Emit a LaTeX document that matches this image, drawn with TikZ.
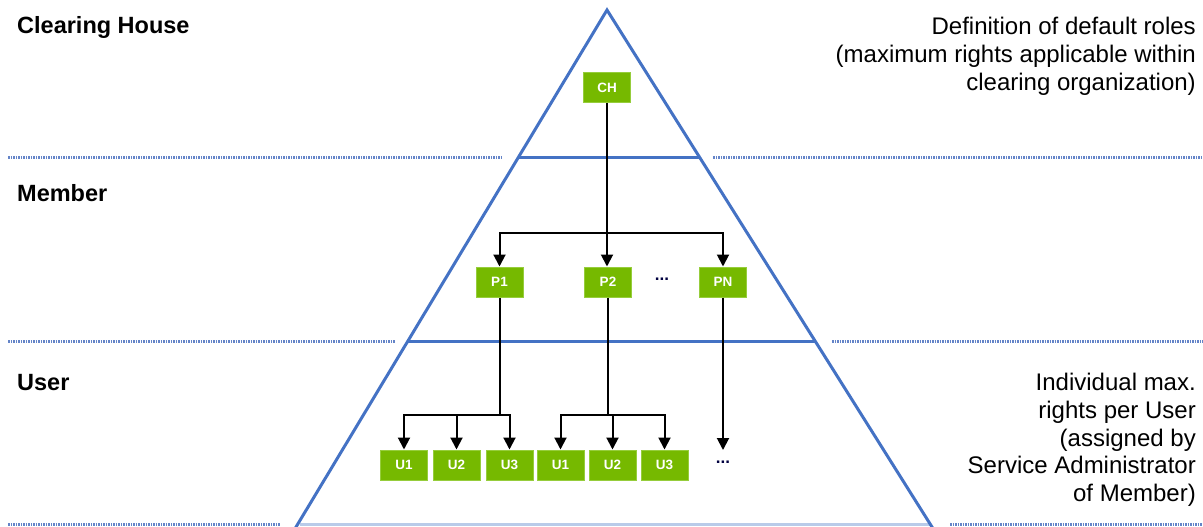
\documentclass[tikz,border=0pt]{standalone}
\usepackage{fontspec}
\setmainfont{Liberation Sans}
\usetikzlibrary{arrows.meta}
\definecolor{tri}{RGB}{68,114,196}
\definecolor{dotc}{RGB}{100,132,200}
\definecolor{lightc}{RGB}{185,203,233}
\definecolor{boxg}{RGB}{118,185,0}
\definecolor{boxb}{RGB}{150,205,60}
\begin{document}
\begin{tikzpicture}[x=1pt,y=-1pt,
  rolebox/.style={draw=boxb, line width=1pt, fill=boxg, minimum width=47pt, minimum height=30pt, inner sep=0pt, text=white, font=\fontsize{13.5}{13.5}\selectfont\bfseries},
  conn/.style={line width=2pt, black},
  arr/.style={conn, -{Triangle[width=12pt,length=12pt]}},
  sep/.style={dotc, line width=3pt, dash pattern=on 1.5pt off 1pt},
  lvl/.style={tri, line width=3pt},
  lbl/.style={anchor=base west, font=\fontsize{23.5}{27}\selectfont\bfseries, inner sep=0pt},
  note/.style={anchor=north east, align=right, font=\fontsize{24}{27.8}\selectfont, inner sep=0pt},
  ell/.style={font=\fontsize{17}{17}\selectfont\bfseries, text=black!75!blue},
]
\useasboundingbox (0,0) rectangle (1203,527);
\clip (0,0) rectangle (1203,527);
% separators
\draw[sep] (8,157) -- (503,157);
\draw[sep] (713,157) -- (1203,157);
\draw[sep] (8,341) -- (395,341);
\draw[sep] (832,341) -- (1203,341);
\draw[sep] (8,524) -- (280,524);
\draw[sep] (950,524) -- (1203,524);
\draw[lightc, line width=3pt] (300,524) -- (930,524);
% triangle
\draw[lvl, line join=miter] (288.2,540) -- (607,10) -- (940.2,540);
\draw[lvl] (518.6,157) -- (699.4,157);
\draw[lvl] (407.9,341) -- (815.1,341);
% labels
\node[lbl] (lch) at (17,34) {Clearing House};
\node[lbl] (lmem) at (17,201) {Member};
\node[lbl] (luser) at (17,390) {User};
\node[note] (n1) at (1196,17) {Definition of default roles\\(maximum rights applicable within\\clearing organization)};
\node[note] (n2) at (1196,373) {Individual max.\\rights per User\\(assigned by\\Service Administrator\\of Member)};
% boxes
\node[rolebox] (CH) at (607,88) {CH};
\node[rolebox] (P1) at (499.5,282) {P1};
\node[rolebox] (P2) at (608,282) {P2};
\node[rolebox] (PN) at (723,282) {PN};
\node[ell] (pdots) at (662,279) {...};
\node[rolebox] (U1a) at (404,465) {U1};
\node[rolebox] (U2a) at (456.5,465) {U2};
\node[rolebox] (U3a) at (509.5,465) {U3};
\node[rolebox] (U1b) at (560.5,465) {U1};
\node[rolebox] (U2b) at (612.5,465) {U2};
\node[rolebox] (U3b) at (664.5,465) {U3};
\node[ell] (udots) at (723,462) {...};
\coordinate (pnend) at (723,450);
% connectors
\coordinate (pbar) at (607,233);
\draw[arr] (CH.south) -- (CH.south |- P2.north);
\draw[arr] (pbar) -| (P1.north);
\draw[arr] (pbar) -| (PN.north);
\draw[conn] (P1.south) -- (P1.south |- 0,415) coordinate (b1);
\draw[arr] (b1) -| (U1a.north);
\draw[arr] (b1) -| (U3a.north);
\draw[arr] (U2a.north |- b1) -- (U2a.north);
\draw[conn] (P2.south) -- (P2.south |- 0,415) coordinate (b2);
\draw[arr] (b2) -| (U1b.north);
\draw[arr] (b2) -| (U3b.north);
\draw[arr] (U2b.north |- b2) -- (U2b.north);
\draw[arr] (PN.south) -- (pnend);
\end{tikzpicture}
\end{document}
